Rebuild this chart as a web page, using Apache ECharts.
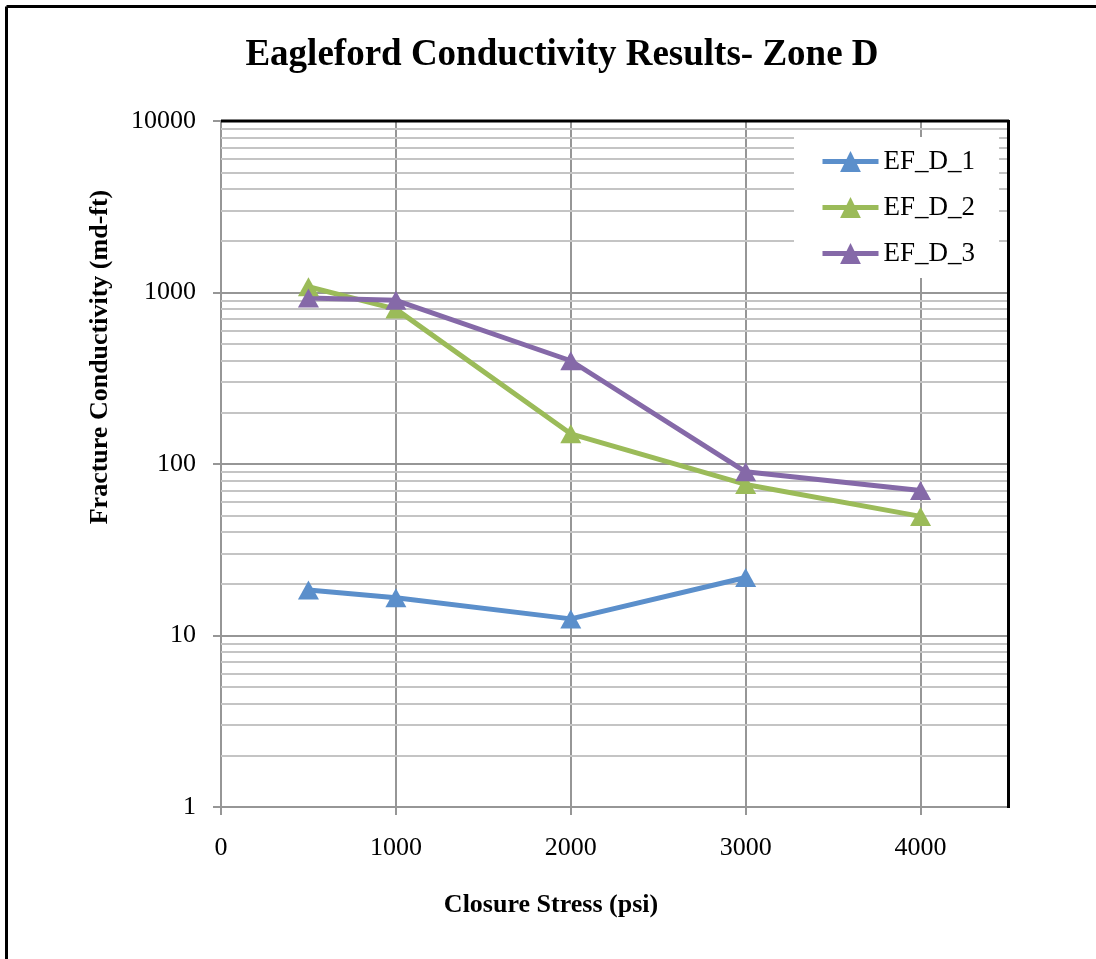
<!DOCTYPE html>
<html>
<head>
<meta charset="utf-8">
<script src="https://cdn.jsdelivr.net/npm/echarts@6/dist/echarts.min.js"></script>
<style>html,body{margin:0;padding:0;background:#fff;}#c{width:1096px;height:959px;}</style>
</head>
<body>
<div id="c"></div>
<script>
const seriesNames = ['EF_D_1', 'EF_D_2', 'EF_D_3'];
const stress1 = [500, 1000, 2000, 3000];
const cond1 = [18.4, 16.6, 12.5, 21.8];
const stress2 = [500, 1000, 2000, 3000, 4000];
const cond2 = [1080, 800, 150, 76, 49.5];
const stress3 = [500, 1000, 2000, 3000, 4000];
const cond3 = [930, 900, 400, 90, 70];
const minorGridValues = [2,3,4,5,6,7,8,9,20,30,40,50,60,70,80,90,200,300,400,500,600,700,800,900,2000,3000,4000,5000,6000,7000,8000,9000];
const titleText = 'Eagleford Conductivity Results- Zone D';
const xTitle = 'Closure Stress (psi)';
const yTitle = 'Fracture Conductivity (md-ft)';

const colors = ['#5B8FCB', '#9BBB59', '#8569A8'];
const font = 'Liberation Serif, Times New Roman, serif';

const chart = echarts.init(document.getElementById('c'), null, {renderer: 'canvas'});
function pairs(xs, ys) { return xs.map((x, i) => [x, ys[i]]); }
const datasets = [pairs(stress1, cond1), pairs(stress2, cond2), pairs(stress3, cond3)];

const series = datasets.map((d, i) => ({
  name: seriesNames[i],
  type: 'line',
  data: d,
  symbol: 'triangle',
  symbolSize: [21, 19],
  z: 10,
  lineStyle: {color: colors[i], width: 5},
  itemStyle: {color: colors[i]},
  emphasis: {disabled: true},
  animation: false
}));
series.unshift({
  type: 'line',
  data: [],
  silent: true,
  z: 1,
  markLine: {
    silent: true,
    symbol: 'none',
    animation: false,
    z: 1,
    label: {show: false},
    lineStyle: {color: '#c4c4c4', width: 2, type: 'solid'},
    emphasis: {disabled: true},
    data: minorGridValues.map(v => ({yAxis: v}))
  }
});

chart.setOption({
  animation: false,
  backgroundColor: '#fff',
  color: colors,
  title: {
    text: titleText,
    left: 557, top: 32, textAlign: 'center',
    textStyle: {fontFamily: font, fontSize: 37, fontWeight: 'bold', color: '#000'}
  },
  grid: {left: 221, right: 88, top: 121, bottom: 152},
  legend: {
    data: seriesNames,
    left: 794, top: 137,
    z: 30,
    orient: 'vertical',
    backgroundColor: '#fff',
    padding: [11, 24, 11, 26],
    itemWidth: 56, itemHeight: 26,
    itemGap: 19,
    lineStyle: {width: 5},
    textStyle: {fontFamily: font, fontSize: 27, color: '#000'},
    selectedMode: false
  },
  xAxis: {
    type: 'value', min: 0, max: 4500, interval: 1000,
    axisLine: {show: true, lineStyle: {color: '#969696', width: 2}},
    axisTick: {show: true, length: 8, lineStyle: {color: '#969696', width: 2}},
    axisLabel: {fontFamily: font, fontSize: 26, color: '#000', margin: 28, showMaxLabel: false,
      formatter: v => (v > 4000 ? '' : String(v))},
    splitLine: {show: true, lineStyle: {color: '#969696', width: 2}}
  },
  yAxis: {
    type: 'log', logBase: 10, min: 1, max: 10000,
    axisLine: {show: true, onZero: false, lineStyle: {color: '#969696', width: 2}},
    axisTick: {show: true, length: 8, lineStyle: {color: '#969696', width: 2}},
    axisLabel: {fontFamily: font, fontSize: 26, color: '#000', margin: 25, formatter: v => String(Math.round(v))},
    splitLine: {show: true, lineStyle: {color: '#969696', width: 2}}
  },
  graphic: [
    {type: 'line', shape: {x1: 221, y1: 121, x2: 1009, y2: 121}, style: {stroke: '#000', lineWidth: 3}, z: 20},
    {type: 'line', shape: {x1: 1008.5, y1: 120, x2: 1008.5, y2: 808}, style: {stroke: '#000', lineWidth: 3}, z: 20},
    {type: 'line', shape: {x1: 6.5, y1: 6.5, x2: 1096, y2: 6.5}, style: {stroke: '#000', lineWidth: 3}},
    {type: 'line', shape: {x1: 6.5, y1: 6.5, x2: 6.5, y2: 959}, style: {stroke: '#000', lineWidth: 3}},
    {type: 'text', x: 100, y: 357, rotation: Math.PI / 2,
      style: {text: yTitle, fontFamily: font, fontSize: 26, fontWeight: 'bold', fill: '#000', align: 'center', verticalAlign: 'middle'}},
    {type: 'text', x: 551, y: 905,
      style: {text: xTitle, fontFamily: font, fontSize: 26, fontWeight: 'bold', fill: '#000', align: 'center', verticalAlign: 'middle'}}
  ],
  series: series
});
</script>
</body>
</html>
